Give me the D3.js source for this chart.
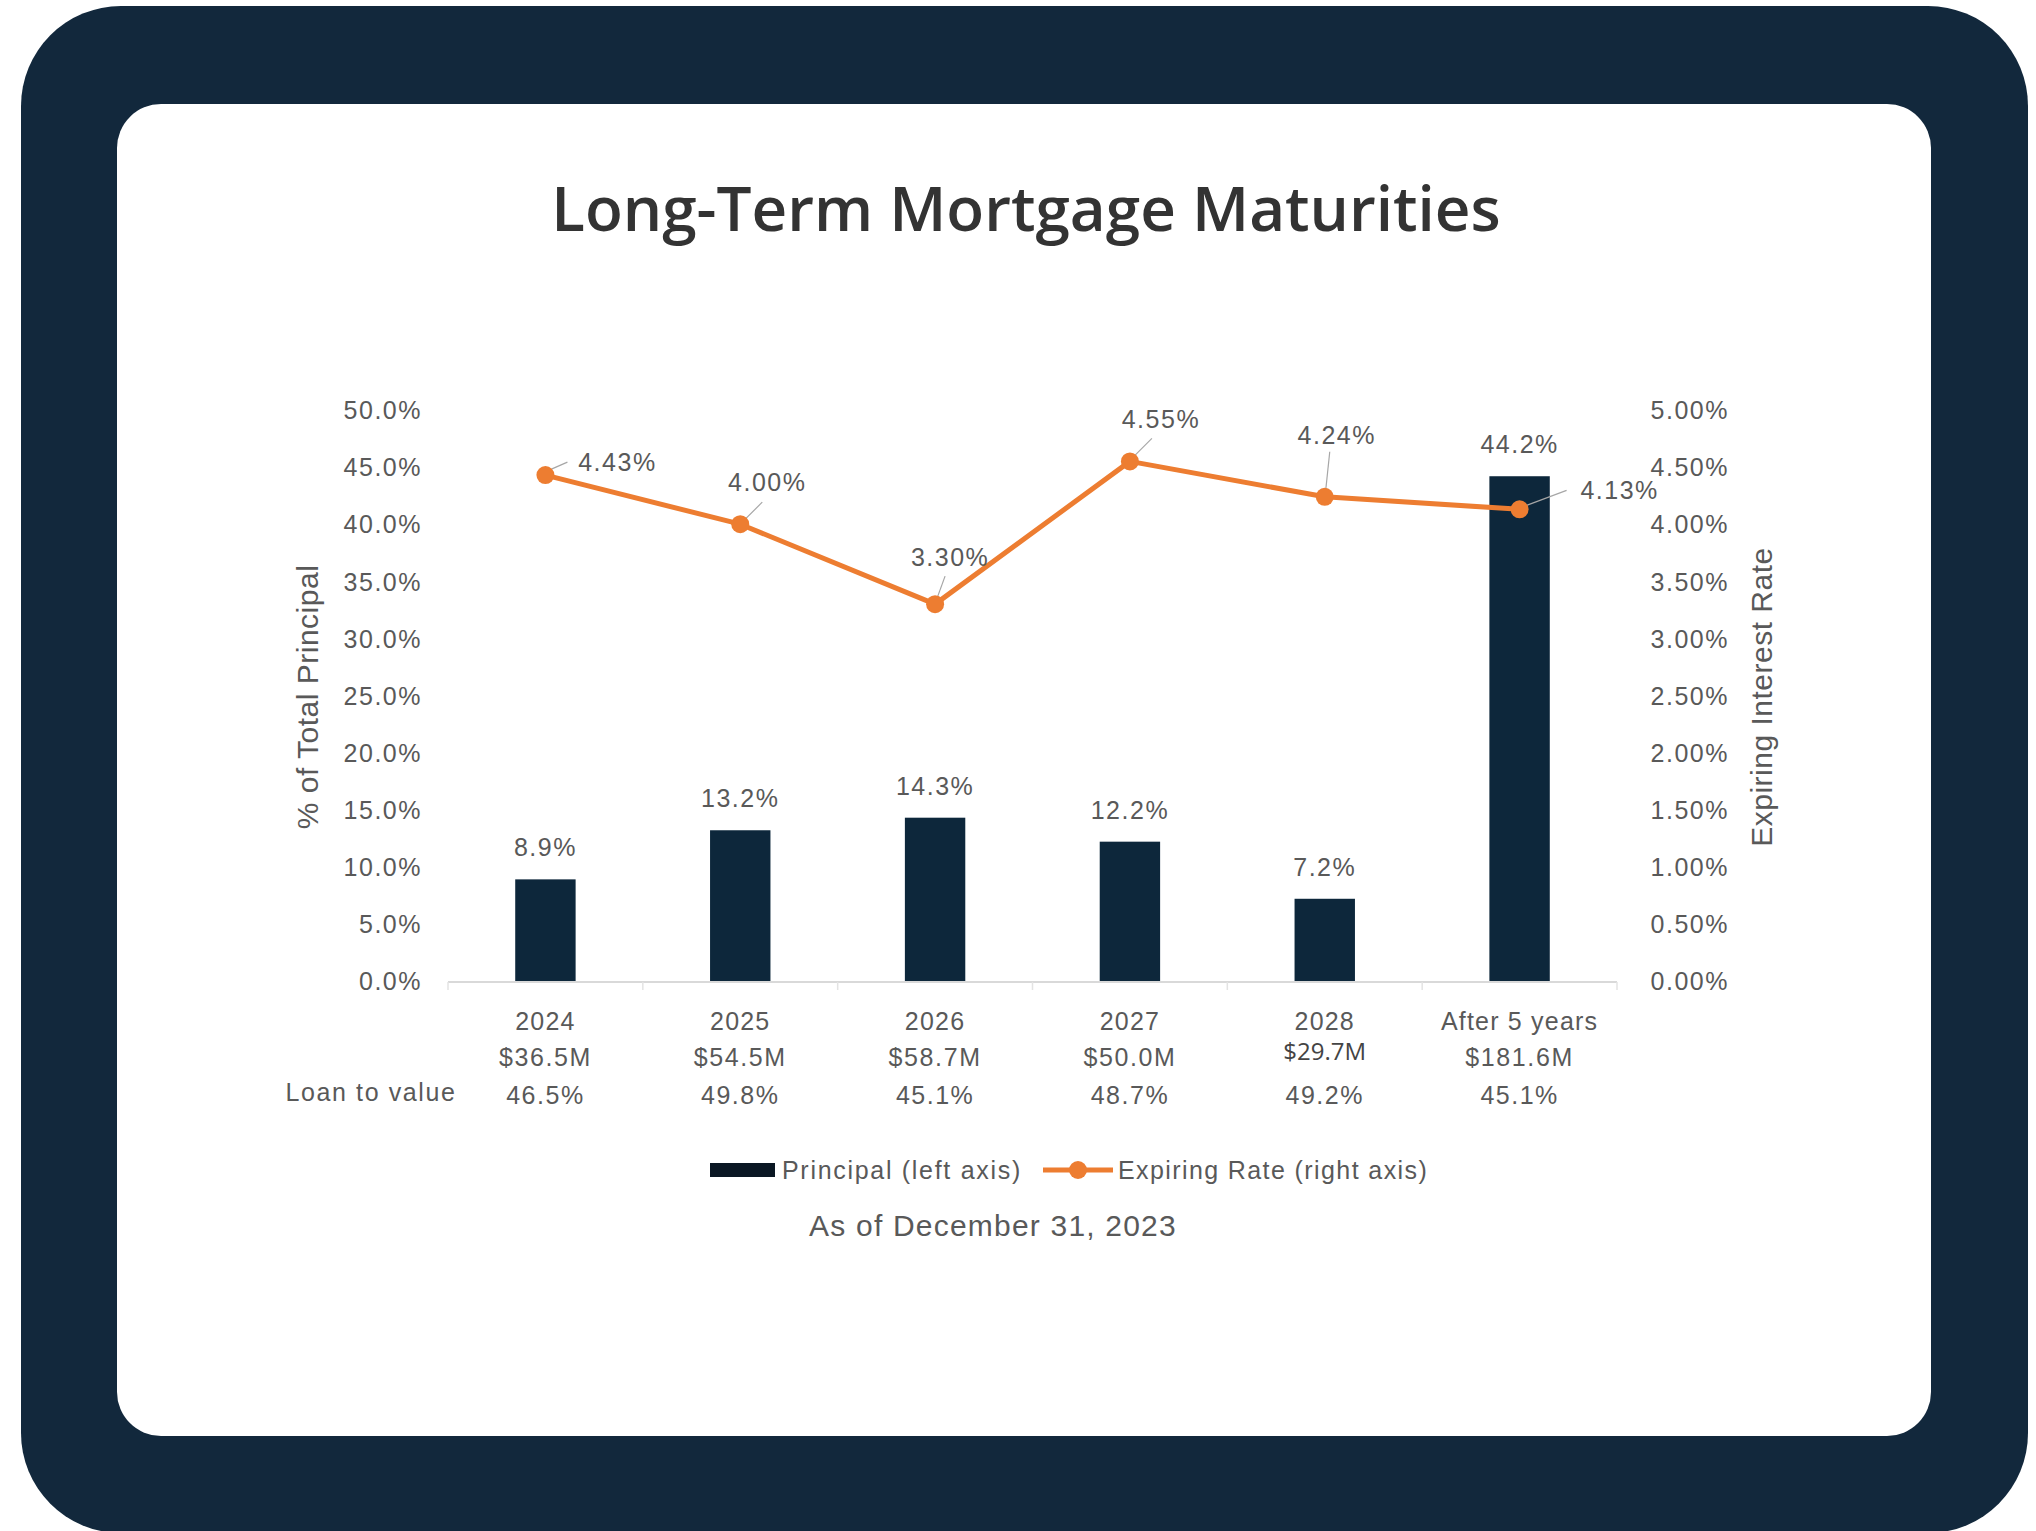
<!DOCTYPE html>
<html>
<head>
<meta charset="utf-8">
<script src="https://cdn.jsdelivr.net/npm/d3@7"></script>
<style>
  body { margin: 0; background: #fff; }
  svg text { font-family: "Liberation Sans", Arial, sans-serif; }
</style>
</head>
<body>
<svg id="chart" width="2036" height="1531"></svg>
<script>
// chart data
const categories = ["2024", "2025", "2026", "2027", "2028", "After 5 years"];
const amounts = ["$36.5M", "$54.5M", "$58.7M", "$50.0M", "$29.7M", "$181.6M"];
const loanToValue = ["46.5%", "49.8%", "45.1%", "48.7%", "49.2%", "45.1%"];
const principalPct = [8.9, 13.2, 14.3, 12.2, 7.2, 44.2];
const expiringRate = [4.43, 4.00, 3.30, 4.55, 4.24, 4.13];
const leftTicks = [0, 5, 10, 15, 20, 25, 30, 35, 40, 45, 50];
const rightTicks = [0, 0.5, 1, 1.5, 2, 2.5, 3, 3.5, 4, 4.5, 5];

// where each rate label sits relative to its point (label centre), and the leader line
const rateLabelPos = [
  { dx: 72, dy: -13, lx1: 6, ly1: -6, lx2: 22, ly2: -13 },
  { dx: 27, dy: -42, lx1: 5, ly1: -5, lx2: 22, ly2: -22 },
  { dx: 15, dy: -47, lx1: 2, ly1: -6, lx2: 10, ly2: -28 },
  { dx: 31, dy: -42, lx1: 5, ly1: -6, lx2: 22, ly2: -23 },
  { dx: 12, dy: -62, lx1: 1, ly1: -7, lx2: 5, ly2: -45 },
  { dx: 100, dy: -19, lx1: 7, ly1: -4, lx2: 47, ly2: -19 }
];

const navy = "#12283c",
  barColor = "#0d273b",
  orange = "#ed7d31",
  textGray = "#595959";

const svg = d3.select("#chart");

// frame
svg.append("rect")
  .attr("x", 21).attr("y", 6)
  .attr("width", 2007).attr("height", 1527)
  .attr("rx", 100).attr("ry", 100)
  .attr("fill", navy);

svg.append("rect")
  .attr("x", 117).attr("y", 104)
  .attr("width", 1814).attr("height", 1332)
  .attr("rx", 44).attr("ry", 44)
  .attr("fill", "#fff");

svg.append("text")
  .attr("x", 1026).attr("y", 231)
  .attr("text-anchor", "middle")
  .style("font-family", "'Open Sans', sans-serif")
  .style("font-weight", 600)
  .style("font-size", "62px")
  .attr("fill", "#333")
  .text("Long-Term Mortgage Maturities");

// scales
const plotLeft = 448, plotRight = 1617, plotTop = 410, plotBottom = 981;

const x = d3.scaleBand()
  .domain(categories)
  .range([plotLeft, plotRight])
  .padding(0);

const yLeft = d3.scaleLinear().domain([0, 50]).range([plotBottom, plotTop]);
const yRight = d3.scaleLinear().domain([0, 5]).range([plotBottom, plotTop]);

const barW = x.bandwidth() * 0.31;
const cx = d => x(d) + x.bandwidth() / 2;

function styleAxis(g) {
  g.select(".domain").remove();
  g.selectAll(".tick line").remove();
  g.selectAll(".tick text")
    .attr("fill", textGray)
    .style("font-size", "25px")
    .style("letter-spacing", "1.5px");
}

// left axis
svg.append("g")
  .attr("transform", `translate(${plotLeft - 26},0)`)
  .call(d3.axisLeft(yLeft).tickValues(leftTicks).tickSize(0).tickFormat(d => d.toFixed(1) + "%"))
  .call(styleAxis)
  .selectAll(".tick text").attr("x", 0).attr("dy", "0.35em");

// right axis
svg.append("g")
  .attr("transform", `translate(1729,0)`)
  .call(d3.axisLeft(yRight).tickValues(rightTicks).tickSize(0).tickFormat(d => d.toFixed(2) + "%"))
  .call(styleAxis)
  .selectAll(".tick text").attr("x", 0).attr("dy", "0.35em");

// axis titles
svg.append("text")
  .attr("transform", `translate(318,697) rotate(-90)`)
  .attr("text-anchor", "middle")
  .attr("fill", textGray)
  .style("font-size", "30px")
  .style("letter-spacing", "0.5px")
  .text("% of Total Principal");

svg.append("text")
  .attr("transform", `translate(1772,697) rotate(-90)`)
  .attr("text-anchor", "middle")
  .attr("fill", textGray)
  .style("font-size", "30px")
  .style("letter-spacing", "0.5px")
  .text("Expiring Interest Rate");

// x axis line with separators
svg.append("line")
  .attr("x1", plotLeft).attr("x2", plotRight)
  .attr("y1", plotBottom + 1).attr("y2", plotBottom + 1)
  .attr("stroke", "#d9d9d9").attr("stroke-width", 2);

svg.append("g").selectAll("line")
  .data(categories.concat(["end"]))
  .enter().append("line")
  .attr("x1", (d, i) => plotLeft + i * x.bandwidth())
  .attr("x2", (d, i) => plotLeft + i * x.bandwidth())
  .attr("y1", plotBottom + 1).attr("y2", plotBottom + 9)
  .attr("stroke", "#e3e3e3").attr("stroke-width", 1.5);

// bars
svg.append("g").selectAll("rect")
  .data(principalPct)
  .enter().append("rect")
  .attr("x", (d, i) => cx(categories[i]) - barW / 2)
  .attr("y", d => yLeft(d))
  .attr("width", barW)
  .attr("height", d => plotBottom - yLeft(d))
  .attr("fill", barColor);

svg.append("g").selectAll("text")
  .data(principalPct)
  .enter().append("text")
  .attr("x", (d, i) => cx(categories[i]))
  .attr("y", d => yLeft(d) - 23)
  .attr("text-anchor", "middle")
  .attr("fill", textGray)
  .style("font-size", "25px")
  .style("letter-spacing", "1.5px")
  .text(d => d.toFixed(1) + "%");

// rate line
const pts = expiringRate.map((d, i) => [cx(categories[i]), yRight(d)]);

svg.append("path")
  .attr("d", d3.line()(pts))
  .attr("fill", "none")
  .attr("stroke", orange)
  .attr("stroke-width", 5)
  .attr("stroke-linejoin", "round");

svg.append("g").selectAll("line")
  .data(pts)
  .enter().append("line")
  .attr("x1", (d, i) => d[0] + rateLabelPos[i].lx1)
  .attr("y1", (d, i) => d[1] + rateLabelPos[i].ly1)
  .attr("x2", (d, i) => d[0] + rateLabelPos[i].lx2)
  .attr("y2", (d, i) => d[1] + rateLabelPos[i].ly2)
  .attr("stroke", "#a6a6a6").attr("stroke-width", 1.2);

svg.append("g").selectAll("circle")
  .data(pts)
  .enter().append("circle")
  .attr("cx", d => d[0]).attr("cy", d => d[1])
  .attr("r", 9)
  .attr("fill", orange);

svg.append("g").selectAll("text")
  .data(expiringRate)
  .enter().append("text")
  .attr("x", (d, i) => pts[i][0] + rateLabelPos[i].dx)
  .attr("y", (d, i) => pts[i][1] + rateLabelPos[i].dy)
  .attr("dy", "0.35em")
  .attr("text-anchor", "middle")
  .attr("fill", textGray)
  .style("font-size", "25px")
  .style("letter-spacing", "1.5px")
  .text(d => d.toFixed(2) + "%");

// category rows under the axis
const rows = svg.append("g");
rows.selectAll(".cat").data(categories).enter().append("text")
  .attr("x", d => cx(d)).attr("y", 1021).attr("dy", "0.35em")
  .attr("text-anchor", "middle").attr("fill", textGray)
  .style("font-size", "25px").style("letter-spacing", "1.2px")
  .text(d => d);

rows.selectAll(".amt").data(amounts).enter().append("text")
  .attr("x", (d, i) => cx(categories[i]))
  .attr("y", (d, i) => i === 4 ? 1052 : 1057).attr("dy", "0.35em")
  .attr("text-anchor", "middle")
  .attr("fill", (d, i) => i === 4 ? "#444" : textGray)
  .style("font-family", (d, i) => i === 4 ? "'Open Sans', sans-serif" : null)
  .style("font-size", (d, i) => i === 4 ? "24px" : "25px")
  .style("letter-spacing", (d, i) => i === 4 ? "0px" : "1.6px")
  .text(d => d);

rows.selectAll(".ltv").data(loanToValue).enter().append("text")
  .attr("x", (d, i) => cx(categories[i])).attr("y", 1095).attr("dy", "0.35em")
  .attr("text-anchor", "middle").attr("fill", textGray)
  .style("font-size", "25px").style("letter-spacing", "1.5px")
  .text(d => d);

rows.append("text")
  .attr("x", 371).attr("y", 1092).attr("dy", "0.35em")
  .attr("text-anchor", "middle").attr("fill", textGray)
  .style("font-size", "25px").style("letter-spacing", "1.6px")
  .text("Loan to value");

// legend
const legend = svg.append("g");
legend.append("rect")
  .attr("x", 710).attr("y", 1163).attr("width", 65).attr("height", 14)
  .attr("fill", "#0a1723");
legend.append("text")
  .attr("x", 782).attr("y", 1170).attr("dy", "0.35em")
  .attr("fill", textGray).style("font-size", "25px").style("letter-spacing", "1.7px")
  .text("Principal (left axis)");
legend.append("line")
  .attr("x1", 1043).attr("x2", 1113).attr("y1", 1170).attr("y2", 1170)
  .attr("stroke", orange).attr("stroke-width", 5);
legend.append("circle")
  .attr("cx", 1078).attr("cy", 1170).attr("r", 9).attr("fill", orange);
legend.append("text")
  .attr("x", 1118).attr("y", 1170).attr("dy", "0.35em")
  .attr("fill", textGray).style("font-size", "25px").style("letter-spacing", "1.4px")
  .text("Expiring Rate (right axis)");

svg.append("text")
  .attr("x", 993).attr("y", 1225).attr("dy", "0.35em")
  .attr("text-anchor", "middle").attr("fill", textGray)
  .style("font-size", "30px").style("letter-spacing", "1.2px")
  .text("As of December 31, 2023");
</script>
</body>
</html>
